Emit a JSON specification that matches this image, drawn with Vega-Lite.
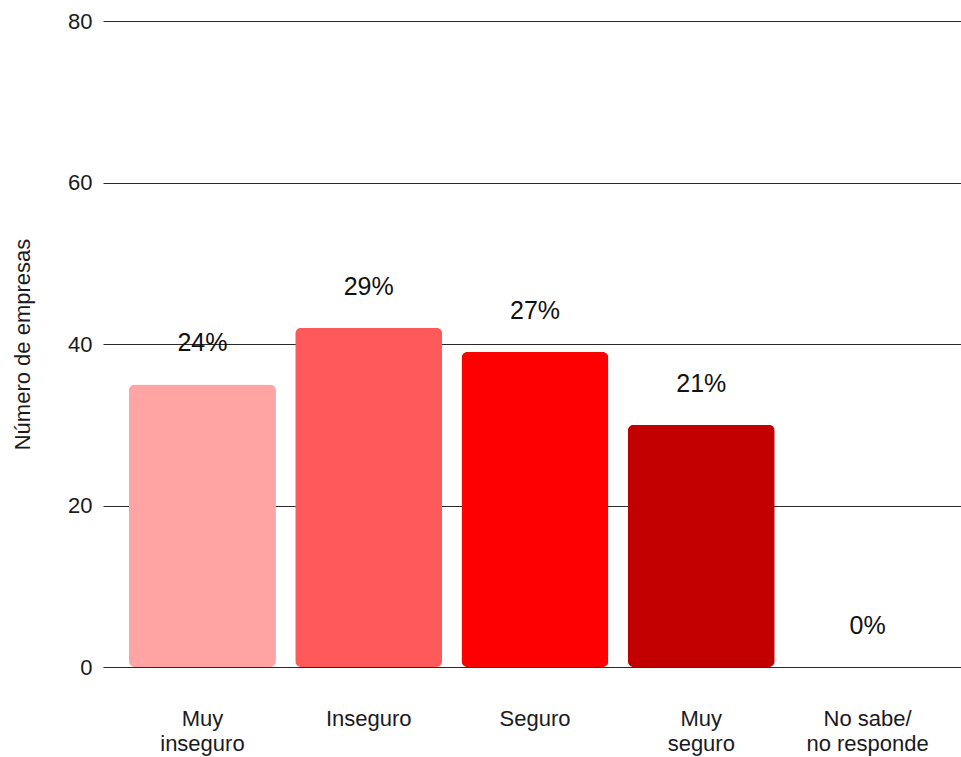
{
  "$schema": "https://vega.github.io/schema/vega-lite/v6.json",
  "autosize": {"type": "none"},
  "width": 864,
  "height": 646,
  "padding": {"left": 103, "top": 21, "right": 0, "bottom": 90},
  "background": "white",
  "config": {
    "view": {"stroke": null},
    "font": "Liberation Sans"
  },
  "data": {
    "values": [
      {"categoria": "Muy inseguro", "empresas": 35, "pct": "24%"},
      {"categoria": "Inseguro", "empresas": 42, "pct": "29%"},
      {"categoria": "Seguro", "empresas": 39, "pct": "27%"},
      {"categoria": "Muy seguro", "empresas": 30, "pct": "21%"},
      {"categoria": "No sabe/ no responde", "empresas": 0, "pct": "0%"}
    ]
  },
  "encoding": {
    "x": {
      "field": "categoria",
      "type": "nominal",
      "sort": ["Muy inseguro", "Inseguro", "Seguro", "Muy seguro", "No sabe/ no responde"],
      "scale": {"paddingInner": 0.116, "paddingOuter": 0.156},
      "axis": {
        "title": null,
        "labelAngle": 0,
        "domain": false,
        "ticks": false,
        "labelPadding": 41,
        "labelFontSize": 22,
        "labelColor": "#1a1a22",
        "labelLineHeight": 25,
        "labelBaseline": "top",
        "labelExpr": "datum.value == 'Muy inseguro' ? ['Muy', 'inseguro'] : datum.value == 'Muy seguro' ? ['Muy', 'seguro'] : datum.value == 'No sabe/ no responde' ? ['No sabe/', 'no responde'] : datum.value"
      }
    },
    "y": {
      "field": "empresas",
      "type": "quantitative",
      "scale": {"domain": [0, 80], "nice": false},
      "axis": {
        "title": "Número de empresas",
        "values": [0, 20, 40, 60, 80],
        "domain": false,
        "ticks": false,
        "labelPadding": 11,
        "labelFontSize": 22,
        "labelColor": "#1a1a22",
        "gridColor": "#2a2a2a",
        "gridWidth": 1.2,
        "titleFontSize": 22,
        "titleFontWeight": "normal",
        "titleColor": "#1a1a22",
        "titleX": -81,
        "titleY": 323,
        "titleBaseline": "middle",
        "titleAngle": 270
      }
    }
  },
  "layer": [
    {
      "mark": {"type": "bar", "cornerRadius": 6},
      "encoding": {
        "color": {
          "field": "categoria",
          "type": "nominal",
          "scale": {
            "domain": ["Muy inseguro", "Inseguro", "Seguro", "Muy seguro", "No sabe/ no responde"],
            "range": ["#FFA3A3", "#FF5A5A", "#FF0000", "#C30000", "#888888"]
          },
          "legend": null
        }
      }
    },
    {
      "mark": {"type": "text", "dy": -41, "baseline": "middle", "fontSize": 25, "color": "#111111"},
      "encoding": {
        "text": {"field": "pct"}
      }
    }
  ]
}
